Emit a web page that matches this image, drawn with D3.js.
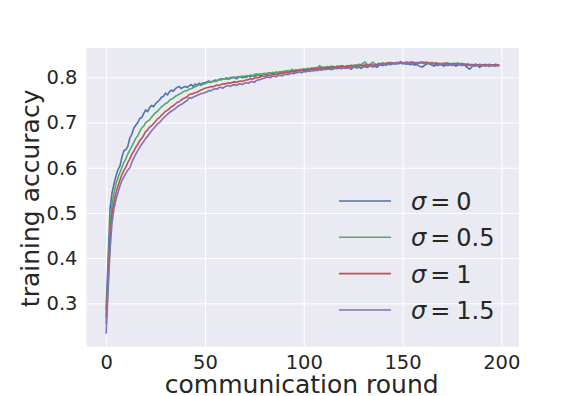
<!DOCTYPE html>
<html>
<head>
<meta charset="utf-8">
<script src="https://cdn.jsdelivr.net/npm/d3@7"></script>
<style>
  body { margin: 0; background: #fff; }
  svg { display: block; font-family: 'DejaVu Sans', sans-serif; }
</style>
</head>
<body>
<div id="chart"></div>
<script>
// training accuracy per communication round, one list per noise level
var sigmas = ['0', '0.5', '1', '1.5'];
var colors = ['#4C72B0', '#55A868', '#C44E52', '#8172B2'];
var xTicks = [0, 50, 100, 150, 200];
var yTicks = [0.3, 0.4, 0.5, 0.6, 0.7, 0.8];

var acc0 = [
  0.285, 0.400, 0.510, 0.545, 0.565, 0.582, 0.596, 0.604, 0.624, 0.638,
  0.640, 0.648, 0.666, 0.674, 0.688, 0.694, 0.700, 0.709, 0.711, 0.720,
  0.728, 0.724, 0.733, 0.738, 0.735, 0.742, 0.746, 0.750, 0.756, 0.758,
  0.765, 0.761, 0.768, 0.772, 0.769, 0.775, 0.778, 0.780, 0.775, 0.778,
  0.780, 0.778, 0.781, 0.784, 0.780, 0.785, 0.783, 0.787, 0.785, 0.788,
  0.788, 0.790, 0.792, 0.789, 0.791, 0.794, 0.792, 0.795, 0.797, 0.796,
  0.797, 0.799, 0.796, 0.798, 0.800, 0.799, 0.797, 0.800, 0.802, 0.799,
  0.801, 0.800, 0.803, 0.801, 0.804, 0.802, 0.805, 0.806, 0.803, 0.806,
  0.808, 0.806, 0.808, 0.810, 0.807, 0.809, 0.811, 0.809, 0.812, 0.810,
  0.812, 0.814, 0.811, 0.813, 0.815, 0.812, 0.814, 0.816, 0.814, 0.816,
  0.815, 0.817, 0.815, 0.818, 0.816, 0.819, 0.817, 0.820, 0.818, 0.816,
  0.819, 0.821, 0.818, 0.820, 0.822, 0.819, 0.821, 0.820, 0.822, 0.819,
  0.822, 0.820, 0.823, 0.821, 0.818, 0.822, 0.824, 0.821, 0.823, 0.820,
  0.823, 0.825, 0.822, 0.824, 0.826, 0.823, 0.825, 0.822, 0.826, 0.828,
  0.826, 0.829, 0.827, 0.830, 0.828, 0.831, 0.829, 0.831, 0.830, 0.832,
  0.830, 0.831, 0.829, 0.830, 0.828, 0.830, 0.827, 0.829, 0.826, 0.824,
  0.823, 0.826, 0.829, 0.831, 0.829, 0.827, 0.825, 0.828, 0.826, 0.829,
  0.827, 0.825, 0.828, 0.826, 0.829, 0.826, 0.828, 0.825, 0.827, 0.829,
  0.826, 0.828, 0.825, 0.821, 0.818, 0.823, 0.827, 0.825, 0.828, 0.822,
  0.826, 0.828, 0.825, 0.827, 0.824, 0.828, 0.826, 0.825, 0.827, 0.826
];

var acc05 = [
  0.270, 0.370, 0.470, 0.520, 0.545, 0.565, 0.578, 0.590, 0.601, 0.612,
  0.620, 0.631, 0.639, 0.648, 0.656, 0.665, 0.671, 0.680, 0.688, 0.692,
  0.700, 0.703, 0.706, 0.712, 0.717, 0.722, 0.725, 0.730, 0.735, 0.738,
  0.742, 0.744, 0.749, 0.752, 0.754, 0.758, 0.760, 0.763, 0.765, 0.768,
  0.770, 0.771, 0.774, 0.775, 0.777, 0.779, 0.781, 0.784, 0.782, 0.785,
  0.786, 0.788, 0.790, 0.789, 0.792, 0.791, 0.793, 0.795, 0.794, 0.796,
  0.797, 0.796, 0.798, 0.800, 0.799, 0.801, 0.800, 0.802, 0.801, 0.803,
  0.802, 0.804, 0.803, 0.805, 0.804, 0.806, 0.808, 0.806, 0.808, 0.807,
  0.809, 0.808, 0.810, 0.809, 0.811, 0.810, 0.812, 0.811, 0.813, 0.812,
  0.814, 0.813, 0.815, 0.814, 0.818, 0.815, 0.817, 0.816, 0.818, 0.817,
  0.819, 0.818, 0.820, 0.819, 0.821, 0.820, 0.822, 0.821, 0.826, 0.822,
  0.823, 0.822, 0.824, 0.823, 0.825, 0.824, 0.823, 0.825, 0.824, 0.826,
  0.825, 0.824, 0.826, 0.825, 0.827, 0.826, 0.828, 0.827, 0.829, 0.828,
  0.831, 0.834, 0.829, 0.828, 0.830, 0.834, 0.829, 0.828, 0.831, 0.830,
  0.832, 0.829, 0.831, 0.833, 0.830, 0.832, 0.831, 0.833, 0.832, 0.835,
  0.832, 0.831, 0.833, 0.832, 0.834, 0.832, 0.831, 0.833, 0.832, 0.834,
  0.833, 0.832, 0.834, 0.832, 0.831, 0.833, 0.830, 0.832, 0.830, 0.831,
  0.829, 0.831, 0.830, 0.832, 0.830, 0.829, 0.831, 0.830, 0.832, 0.829,
  0.831, 0.830, 0.828, 0.830, 0.828, 0.829, 0.827, 0.829, 0.827, 0.829,
  0.828, 0.826, 0.828, 0.827, 0.829, 0.827, 0.828, 0.826, 0.828, 0.827
];

var acc1 = [
  0.255, 0.350, 0.440, 0.500, 0.525, 0.545, 0.560, 0.573, 0.585, 0.594,
  0.602, 0.612, 0.620, 0.630, 0.637, 0.645, 0.652, 0.660, 0.665, 0.672,
  0.680, 0.684, 0.690, 0.693, 0.698, 0.703, 0.708, 0.711, 0.716, 0.720,
  0.725, 0.727, 0.731, 0.735, 0.737, 0.741, 0.745, 0.746, 0.750, 0.753,
  0.755, 0.757, 0.762, 0.763, 0.764, 0.766, 0.767, 0.770, 0.772, 0.774,
  0.776, 0.777, 0.778, 0.780, 0.779, 0.781, 0.783, 0.782, 0.784, 0.786,
  0.785, 0.787, 0.788, 0.787, 0.789, 0.790, 0.789, 0.791, 0.792, 0.791,
  0.793, 0.794, 0.795, 0.797, 0.796, 0.798, 0.800, 0.799, 0.801, 0.803,
  0.802, 0.804, 0.805, 0.804, 0.806, 0.807, 0.806, 0.808, 0.809, 0.808,
  0.810, 0.811, 0.810, 0.812, 0.813, 0.812, 0.814, 0.815, 0.814, 0.816,
  0.817, 0.816, 0.818, 0.817, 0.819, 0.818, 0.820, 0.819, 0.821, 0.820,
  0.822, 0.821, 0.823, 0.822, 0.821, 0.823, 0.822, 0.824, 0.823, 0.825,
  0.824, 0.823, 0.825, 0.824, 0.826, 0.825, 0.824, 0.826, 0.825, 0.827,
  0.826, 0.828, 0.827, 0.826, 0.828, 0.827, 0.829, 0.828, 0.830, 0.829,
  0.831, 0.830, 0.832, 0.831, 0.833, 0.832, 0.831, 0.833, 0.832, 0.834,
  0.833, 0.832, 0.834, 0.833, 0.832, 0.834, 0.833, 0.831, 0.833, 0.832,
  0.834, 0.833, 0.832, 0.833, 0.831, 0.832, 0.830, 0.832, 0.831, 0.829,
  0.831, 0.830, 0.832, 0.830, 0.829, 0.831, 0.829, 0.830, 0.828, 0.830,
  0.829, 0.827, 0.829, 0.828, 0.826, 0.828, 0.827, 0.829, 0.827, 0.826,
  0.828, 0.827, 0.829, 0.827, 0.826, 0.828, 0.827, 0.829, 0.828, 0.827
];

var acc15 = [
  0.233, 0.330, 0.420, 0.480, 0.510, 0.530, 0.545, 0.560, 0.572, 0.580,
  0.588, 0.595, 0.600, 0.612, 0.622, 0.630, 0.638, 0.645, 0.652, 0.658,
  0.665, 0.670, 0.676, 0.682, 0.687, 0.692, 0.697, 0.700, 0.705, 0.710,
  0.714, 0.718, 0.722, 0.725, 0.728, 0.731, 0.735, 0.738, 0.740, 0.743,
  0.746, 0.749, 0.755, 0.754, 0.756, 0.758, 0.760, 0.762, 0.764, 0.765,
  0.766, 0.768, 0.771, 0.770, 0.773, 0.775, 0.774, 0.777, 0.778, 0.776,
  0.779, 0.781, 0.782, 0.780, 0.783, 0.784, 0.782, 0.785, 0.786, 0.784,
  0.787, 0.788, 0.787, 0.790, 0.791, 0.789, 0.793, 0.794, 0.795, 0.797,
  0.798, 0.800, 0.801, 0.799, 0.802, 0.803, 0.801, 0.804, 0.805, 0.803,
  0.806, 0.807, 0.806, 0.808, 0.809, 0.808, 0.810, 0.811, 0.812, 0.810,
  0.813, 0.812, 0.814, 0.813, 0.815, 0.814, 0.816, 0.815, 0.817, 0.816,
  0.818, 0.817, 0.819, 0.818, 0.817, 0.819, 0.820, 0.819, 0.821, 0.820,
  0.822, 0.821, 0.820, 0.822, 0.821, 0.823, 0.822, 0.821, 0.823, 0.822,
  0.824, 0.823, 0.825, 0.824, 0.826, 0.825, 0.827, 0.826, 0.828, 0.827,
  0.829, 0.828, 0.830, 0.829, 0.831, 0.830, 0.832, 0.831, 0.833, 0.832,
  0.831, 0.833, 0.832, 0.831, 0.833, 0.832, 0.830, 0.832, 0.831, 0.833,
  0.832, 0.830, 0.832, 0.831, 0.829, 0.831, 0.830, 0.828, 0.830, 0.829,
  0.831, 0.829, 0.828, 0.830, 0.828, 0.827, 0.829, 0.828, 0.830, 0.828,
  0.827, 0.829, 0.827, 0.826, 0.828, 0.826, 0.825, 0.827, 0.826, 0.828,
  0.826, 0.825, 0.827, 0.826, 0.828, 0.826, 0.825, 0.827, 0.826, 0.826
];

var series = [acc0, acc05, acc1, acc15];

var width = 576;
var height = 396;
var plot = { left: 86.5, right: 519, top: 48, bottom: 346.7 };
var textColor = '#262626';

var svg = d3.select('#chart').append('svg')
  .attr('width', width)
  .attr('height', height);

// matplotlib-style 5% margins around the data
var x = d3.scaleLinear()
  .domain([-9.95, 208.95])
  .range([plot.left, plot.right]);
var y = d3.scaleLinear()
  .domain([0.204, 0.865])
  .range([plot.bottom, plot.top]);

svg.append('rect')
  .attr('x', plot.left)
  .attr('y', plot.top)
  .attr('width', plot.right - plot.left)
  .attr('height', plot.bottom - plot.top)
  .attr('fill', '#EAEAF2');

// grid via the axes, ticks stretched across the plot
let xAxis = d3.axisBottom(x)
  .tickValues(xTicks)
  .tickSize(-(plot.bottom - plot.top))
  .tickPadding(8)
  .tickFormat(d3.format('d'));
let yAxis = d3.axisLeft(y)
  .tickValues(yTicks)
  .tickSize(-(plot.right - plot.left))
  .tickPadding(9)
  .tickFormat(d3.format('.1f'));

let gx = svg.append('g')
  .attr('transform', `translate(0, ${plot.bottom})`)
  .call(xAxis);
let gy = svg.append('g')
  .attr('transform', `translate(${plot.left}, 0)`)
  .call(yAxis);

[gx, gy].forEach(function(g) {
  g.select('.domain').remove();
  g.selectAll('.tick line')
    .attr('stroke', '#fff')
    .attr('stroke-width', 1);
  g.selectAll('.tick text')
    .attr('fill', textColor)
    .attr('font-size', '19.5px')
    .attr('font-family', 'DejaVu Sans');
});
gx.selectAll('.tick text').attr('dy', '0.71em');

let line = d3.line()
  .x((d, i) => x(i))
  .y(d => y(d));

svg.append('g')
  .selectAll('path')
  .data(series)
  .enter()
  .append('path')
    .attr('d', line)
    .attr('fill', 'none')
    .attr('stroke', (d, i) => colors[i])
    .attr('stroke-width', 1.6)
    .attr('stroke-linejoin', 'round');

// axis labels
svg.append('text')
  .attr('x', (plot.left + plot.right) / 2 - 1)
  .attr('y', 393)
  .attr('text-anchor', 'middle')
  .attr('fill', textColor)
  .attr('font-size', '25px')
  .text('communication round');

svg.append('text')
  .attr('transform', `translate(39, ${(plot.top + plot.bottom) / 2 + 1}) rotate(-90)`)
  .attr('text-anchor', 'middle')
  .attr('fill', textColor)
  .attr('font-size', '25px')
  .text('training accuracy');

// legend, no frame
let legend = svg.append('g');
let rowY = [201, 237.3, 273.6, 310];
sigmas.forEach(function(s, i) {
  legend.append('line')
    .attr('x1', 339)
    .attr('x2', 391)
    .attr('y1', rowY[i])
    .attr('y2', rowY[i])
    .attr('stroke', colors[i])
    .attr('stroke-width', 1.6);
  let t = legend.append('text')
    .attr('x', 411)
    .attr('y', rowY[i] + 9)
    .attr('fill', textColor)
    .attr('font-size', '24px');
  t.append('tspan')
    .attr('font-style', 'italic')
    .text('σ');
  t.append('tspan')
    .attr('dx', 4)
    .text('=');
  t.append('tspan')
    .attr('dx', 6)
    .text(s);
});
</script>
</body>
</html>
